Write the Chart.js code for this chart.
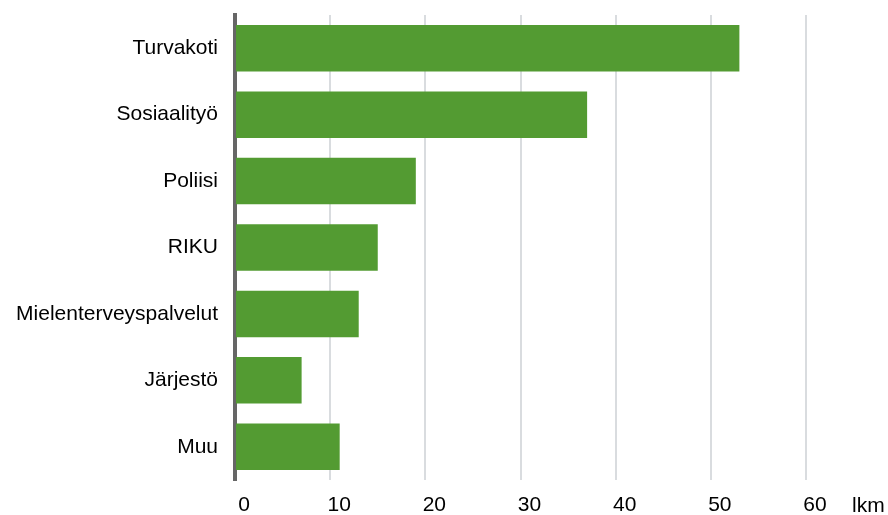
<!DOCTYPE html>
<html>
<head>
<meta charset="utf-8">
<script src="https://cdn.jsdelivr.net/npm/chart.js@4"></script>
<style>
  html, body { margin: 0; padding: 0; background: #fff; }
  #wrap { width: 888px; height: 515px; position: relative; }
</style>
</head>
<body>
<div id="wrap"><canvas id="chart"></canvas></div>
<script>
// Data
const categories = ['Turvakoti', 'Sosiaalityö', 'Poliisi', 'RIKU', 'Mielenterveyspalvelut', 'Järjestö', 'Muu'];
const counts = [53, 37, 19, 15, 13, 7, 11];
const xTicks = [0, 10, 20, 30, 40, 50, 60];
const unitLabel = 'lkm';

const FONT = "'Liberation Sans', Arial, sans-serif";

// draws the unit label to the right of the last tick
const unitPlugin = {
    id: 'unitLabel',
    afterDraw(chart) {
        const ctx = chart.ctx;
        const area = chart.chartArea;
        ctx.save();
        ctx.font = '21px ' + FONT;
        ctx.fillStyle = '#000';
        ctx.textAlign = 'left';
        ctx.textBaseline = 'middle';
        ctx.fillText(unitLabel, area.right + 46, area.bottom + 26);
        ctx.restore();
    }
};

new Chart(document.getElementById('chart'), {
    type: 'bar',
    data: {
        labels: categories,
        datasets: [{
            data: counts,
            backgroundColor: '#539b32',
            borderWidth: 0,
            barPercentage: 0.7,
            categoryPercentage: 1
        }]
    },
    plugins: [unitPlugin],
    options: {
        indexAxis: 'y',
        responsive: true,
        maintainAspectRatio: false,
        animation: false,
        layout: { padding: { top: 15, right: 82, left: 0, bottom: 0 } },
        plugins: {
            legend: { display: false },
            tooltip: { enabled: false }
        },
        scales: {
            x: {
                min: 0,
                max: 60,
                afterBuildTicks: (scale) => { scale.ticks = xTicks.map(v => ({ value: v })); },
                afterFit: (scale) => {
                    scale.height = 35;
                    scale.paddingLeft = 0;
                    scale.paddingRight = 0;
                },
                grid: { color: '#d9dcdf', lineWidth: 2, drawTicks: false },
                border: { display: false },
                ticks: {
                    color: '#000',
                    font: { family: FONT, size: 21 },
                    padding: 13,
                    labelOffset: 9
                }
            },
            y: {
                z: 1,
                grid: { display: false, drawTicks: false },
                border: { display: true, color: '#666666', width: 4 },
                afterFit: (scale) => {
                    scale.width = 235;
                    scale.paddingTop = 0;
                    scale.paddingBottom = 0;
                },
                ticks: {
                    color: '#000',
                    font: { family: FONT, size: 21 },
                    padding: 17
                }
            }
        }
    }
});
</script>
</body>
</html>
